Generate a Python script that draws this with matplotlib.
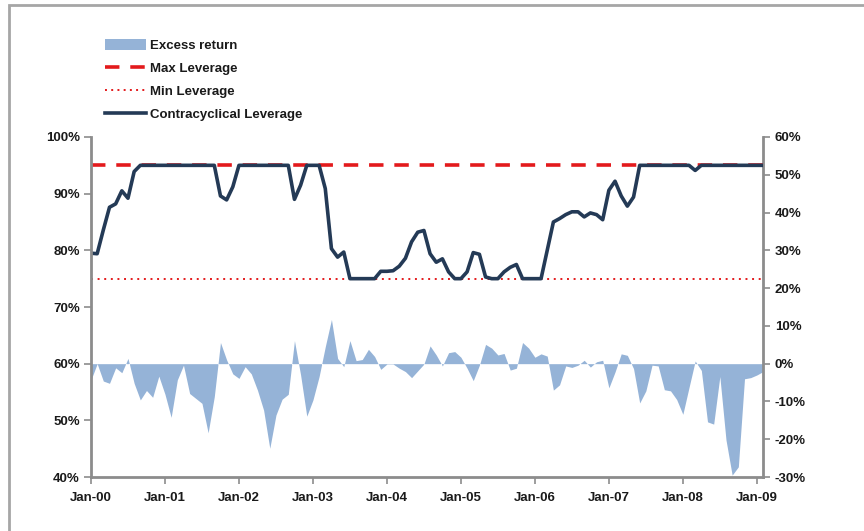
import matplotlib
matplotlib.use("Agg")
import matplotlib.pyplot as plt
import numpy as np
from matplotlib.patches import Rectangle
from matplotlib.lines import Line2D
from matplotlib.ticker import FuncFormatter

# ---- data (monthly, Jan-00 .. Feb-09) ----
tick_labels = ["Jan-00", "Jan-01", "Jan-02", "Jan-03", "Jan-04", "Jan-05",
               "Jan-06", "Jan-07", "Jan-08", "Jan-09"]

max_leverage = 95.0
min_leverage = 75.0

leverage = [
    79.5, 79.4, 83.6, 87.6, 88.2, 90.5, 89.2, 93.9, 95, 95,      # 0-9
    95, 95, 95, 95, 95, 95, 95, 95, 95, 95,                      # 10-19
    95, 89.6, 88.9, 91.2, 95, 95, 95, 95, 95, 95,                # 20-29
    95, 95, 95, 89.0, 91.5, 95, 95, 95, 90.9, 80.3,              # 30-39
    78.8, 79.7, 75, 75, 75, 75, 75, 76.3, 76.3, 76.4,            # 40-49
    77.2, 78.6, 81.5, 83.2, 83.5, 79.4, 77.9, 78.5, 76.2, 75,    # 50-59
    75, 76.2, 79.6, 79.3, 75.3, 75, 75, 76.2, 77.0, 77.5,        # 60-69
    75, 75, 75, 75, 80.0, 85.0, 85.6, 86.3, 86.8, 86.8,          # 70-79
    85.9, 86.6, 86.3, 85.4, 90.6, 92.2, 89.6, 87.8, 89.4, 95,    # 80-89
    95, 95, 95, 95, 95, 95, 95, 95, 94.1, 95,                    # 90-99
    95, 95, 95, 95, 95, 95, 95, 95, 95, 95,                      # 100-109
]

excess_return = [
    -4.3, 0.0, -4.6, -5.2, -1.1, -2.4, 1.4, -5.2, -9.6, -7.1,     # 0-9
    -8.9, -3.3, -8.1, -14.2, -4.3, -0.4, -7.9, -9.2, -10.5, -18.3, # 10-19
    -8.7, 5.6, 1.0, -2.7, -3.9, -0.8, -2.7, -7.0, -12.3, -22.4,   # 20-29
    -13.6, -9.4, -8.1, 6.1, -3.0, -13.9, -9.6, -3.4, 4.5, 11.7,   # 30-39
    1.4, -0.8, 6.1, 0.8, 1.1, 3.8, 1.9, -1.5, -0.1, -0.1,         # 40-49
    -1.2, -2.1, -3.7, -1.9, -0.1, 4.7, 2.3, -0.6, 2.9, 3.2,       # 50-59
    1.7, -1.2, -4.5, -0.4, 5.1, 4.1, 2.3, 2.7, -1.7, -1.2,        # 60-69
    5.6, 4.1, 1.7, 2.6, 2.0, -7.0, -5.6, -0.6, -1.0, -0.4,        # 70-79
    0.9, -0.9, 0.5, 0.9, -6.4, -2.2, 2.6, 2.2, -1.3, -10.4,       # 80-89
    -7.2, -0.4, -0.6, -6.9, -7.2, -9.5, -13.4, -6.3, 0.7, -1.8,   # 90-99
    -15.4, -16.0, -3.4, -20.2, -29.5, -27.3, -4.0, -3.7, -3.0, -2.1, # 100-109
]

# ---- styling ----
FONT = ["Liberation Sans", "DejaVu Sans"]
plt.rcParams["font.family"] = FONT
TXT = "#1a1a1a"
AXC = "#8c8c8c"

fig = plt.figure(figsize=(8.64, 5.31), dpi=100)
fig.patch.set_facecolor("white")

# outer chart frame (top & left visible)
fig.add_artist(Rectangle((9/864, -0.05), 1.2, 1 - 5/531 + 0.05,
                         transform=fig.transFigure, fill=False,
                         edgecolor="#a6a6a6", linewidth=2))

ax = fig.add_axes([91/864, 1 - 477/531, (763 - 91)/864, (477 - 137)/531])
ax2 = ax.twinx()

x = np.arange(len(leverage))

# excess return area on the secondary axis (drawn behind)
ax.set_zorder(2)
ax.patch.set_visible(False)
ax2.set_zorder(1)
ax2.fill_between(x, 0, excess_return, color="#95b3d7", linewidth=0)
ax2.set_ylim(-30, 60)
ax2.set_yticks(np.arange(-30, 61, 10))
ax2.yaxis.set_major_formatter(FuncFormatter(lambda v, p: f"{v:.0f}%"))

# leverage lines on primary axis
ax.axhline(max_leverage, color="#e31a1c", linestyle=(0, (4, 3)), linewidth=2.6)
ax.axhline(min_leverage, color="#e31a1c", linestyle=(0, (1, 2.4)), linewidth=1.4)
ax.plot(x, leverage, color="#243a56", linewidth=2.6, solid_joinstyle="round")
ax.set_ylim(40, 100)
ax.set_yticks(np.arange(40, 101, 10))
ax.yaxis.set_major_formatter(FuncFormatter(lambda v, p: f"{v:.0f}%"))

ax.set_xlim(0, len(leverage) - 1)
ax.set_xticks(np.arange(0, 12 * len(tick_labels), 12))
ax.set_xticklabels(tick_labels)

for a in (ax, ax2):
    a.spines["top"].set_visible(False)
    for s in ("left", "right", "bottom"):
        a.spines[s].set_color(AXC)
        a.spines[s].set_linewidth(2)
    a.tick_params(colors=AXC, labelcolor=TXT, width=1.2, length=5,
                  direction="out", labelsize=9.5)
ax.spines["right"].set_visible(False)
ax2.spines["left"].set_visible(False)
ax2.spines["bottom"].set_visible(False)
ax.tick_params(axis="x", pad=6)
ax.tick_params(axis="y", pad=3)
for lab in ax.get_xticklabels() + ax.get_yticklabels() + ax2.get_yticklabels():
    lab.set_fontweight("bold")

# legend outside above the plot
handles = [
    Rectangle((0, 0), 1, 1, facecolor="#95b3d7", edgecolor="none"),
    Line2D([], [], color="#e31a1c", linestyle=(0, (4, 3)), linewidth=2.6),
    Line2D([], [], color="#e31a1c", linestyle=(0, (1, 2.2)), linewidth=1.4),
    Line2D([], [], color="#243a56", linewidth=2.6),
]
labels = ["Excess return", "Max Leverage", "Min Leverage", "Contracyclical Leverage"]
leg = fig.legend(handles, labels, loc="upper left",
                 bbox_to_anchor=(100/864, 1 - 34/531), frameon=False,
                 prop={"family": FONT, "weight": "bold", "size": 9.5},
                 handlelength=3.1, handleheight=0.9, handletextpad=0.3,
                 labelspacing=0.75, borderaxespad=0)
for t in leg.get_texts():
    t.set_color(TXT)

fig.savefig("out.png", dpi=100)
